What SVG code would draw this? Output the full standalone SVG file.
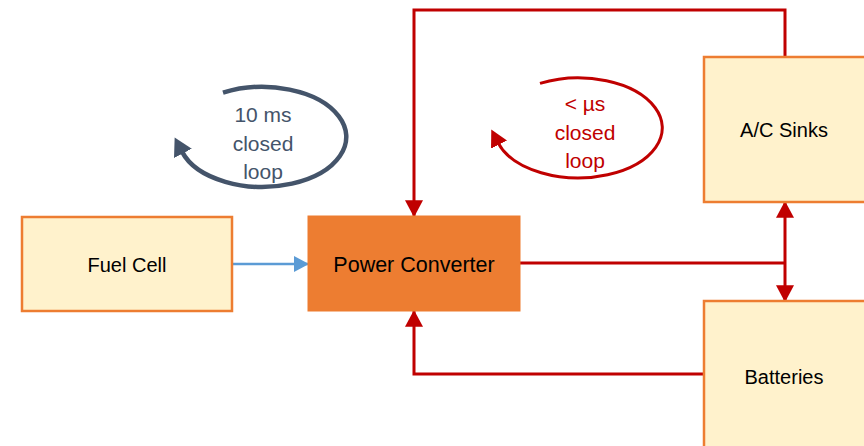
<svg xmlns="http://www.w3.org/2000/svg" width="864" height="446" viewBox="0 0 864 446">
<style>
.box{fill:#FFF2CC;stroke:#ED7D31;stroke-width:2.5}
.pc{fill:#ED7D31;stroke:#ED7D31;stroke-width:1}
.lbl{font-family:"Liberation Sans",Arial,sans-serif;font-size:20px;fill:#000;text-anchor:middle}
.red{fill:none;stroke:#C00000;stroke-width:3}
.blue{fill:none;stroke:#5B9BD5;stroke-width:2.5}
.loopd{fill:none;stroke:#44546A;stroke-width:4.5}
.loopr{fill:none;stroke:#C00000;stroke-width:3}
.td{font-family:"Liberation Sans",Arial,sans-serif;font-size:21px;fill:#44546A;text-anchor:middle}
.tr{font-family:"Liberation Sans",Arial,sans-serif;font-size:21px;fill:#C00000;text-anchor:middle}
</style>
<defs>
<marker id="ar" markerUnits="userSpaceOnUse" markerWidth="18" markerHeight="18" refX="14" refY="8" orient="auto-start-reverse" viewBox="0 0 16 16">
<path d="M0,0 L15,8 L0,16 Z" fill="#C00000"/>
</marker>
<marker id="ab" markerUnits="userSpaceOnUse" markerWidth="16" markerHeight="16" refX="14" refY="8" orient="auto" viewBox="0 0 16 16">
<path d="M0,0 L15,8 L0,16 Z" fill="#5B9BD5"/>
</marker>
<marker id="ad" markerUnits="userSpaceOnUse" markerWidth="20" markerHeight="20" refX="2" refY="10" orient="auto" viewBox="0 0 20 20">
<path d="M0,0 L18,10 L0,20 Z" fill="#44546A"/>
</marker>
<marker id="ar2" markerUnits="userSpaceOnUse" markerWidth="18" markerHeight="18" refX="2" refY="8" orient="auto" viewBox="0 0 16 16">
<path d="M0,0 L15,8 L0,16 Z" fill="#C00000"/>
</marker>
</defs>
<g id="connectors">
<path class="blue" d="M233,264 H308" marker-end="url(#ab)"/>
<path class="red" d="M785,57 V10 H414 V216" marker-end="url(#ar)"/>
<path class="red" d="M704,374 H414 V311" marker-end="url(#ar)"/>
<path class="red" d="M520,263 H785"/>
<path class="red" d="M785,202 V301" marker-start="url(#ar)" marker-end="url(#ar)"/>
</g>
<g id="loop-10ms">
<path class="loopd" d="M223,92.7 A84,50 0 1 1 182,151.6" marker-end="url(#ad)"/>
<text class="td" x="263" y="122">10 ms</text>
<text class="td" x="263" y="151">closed</text>
<text class="td" x="263" y="179">loop</text>
</g>
<g id="loop-us">
<path class="loopr" d="M540,83.4 A84,50 0 1 1 498,142.6" marker-end="url(#ar2)"/>
<text class="tr" x="585" y="111">&lt; µs</text>
<text class="tr" x="585" y="140">closed</text>
<text class="tr" x="585" y="168">loop</text>
</g>
<g id="fuel-cell">
<rect class="box" x="22" y="217" width="210" height="94"/>
<text class="lbl" x="127" y="272">Fuel Cell</text>
</g>
<g id="power-converter">
<rect class="pc" x="308" y="216" width="212" height="95"/>
<text class="lbl" x="414" y="272" style="font-size:21.5px">Power Converter</text>
</g>
<g id="ac-sinks">
<rect class="box" x="704" y="57" width="164" height="145"/>
<text class="lbl" x="784" y="137">A/C Sinks</text>
</g>
<g id="batteries">
<rect class="box" x="704" y="301" width="164" height="150"/>
<text class="lbl" x="784" y="384">Batteries</text>
</g>
</svg>
